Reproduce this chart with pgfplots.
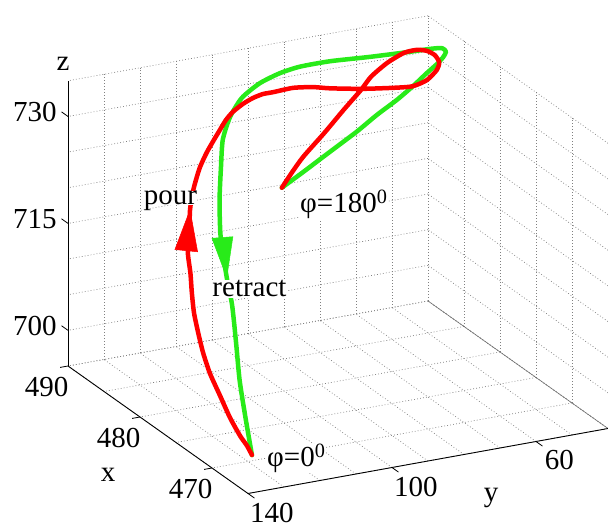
\documentclass[border=0pt]{standalone}
\usepackage{fontspec}
\setmainfont{Liberation Serif}
\usepackage{pgfplots}
\pgfplotsset{compat=1.18}

\definecolor{rcol}{RGB}{255,0,0}
\definecolor{gcol}{RGB}{40,235,25}
\newcommand{\lbl}{\fontsize{29}{32}\selectfont}

\begin{document}
\begin{tikzpicture}
\begin{axis}[
    x={(-7.2pt,5.1pt)}, y={(-3.6pt,-0.65pt)}, z={(0pt,7.13pt)},
    xmin=465, xmax=490, ymin=40, ymax=140, zmin=695, zmax=735,
    xtick={470,480,490}, ytick={60,100,140}, ztick={700,715,730},
    minor xtick={465,475,485},
    minor ytick={40,50,70,80,90,110,120,130},
    minor ztick={695,705,710,720,725,735},
    grid=both,
    major grid style={black!50, line width=0.7pt, dash pattern=on 0.8pt off 2.2pt},
    minor grid style={black!50, line width=0.7pt, dash pattern=on 0.8pt off 2.2pt},
    axis line style={draw=none},
    tick pos=left,
    tick align=outside,
    major tick length=8pt, minor tick length=0pt,
    tick style={draw=none},
    ticklabel style={font=\lbl},
    xticklabel style={xshift=3pt},
    yticklabel style={xshift=9pt, yshift=1.5pt},
    /pgf/number format/assume math mode=true,
    /pgf/number format/1000 sep={},
    clip=false,
]
  % axis lines in front (MATLAB style)
  \draw[black!55, line width=0.6pt] (axis cs:490,40,695) -- (axis cs:465,40,695);
  \draw[black, line width=0.9pt] (axis cs:490,140,695) -- (axis cs:465,140,695) -- (axis cs:465,40,695);
  \draw[black, line width=0.9pt] (axis cs:490,140,695) -- (axis cs:490,140,735);
  % outward tick marks
  \pgfplotsinvokeforeach{470,480,490}{\draw[black, line width=0.8pt] (axis cs:#1,140,695) -- (axis cs:#1,142.2,695);}
  \pgfplotsinvokeforeach{60,100,140}{\draw[black, line width=0.8pt] (axis cs:465,#1,695) -- (axis cs:464.1,#1,695);}
  \pgfplotsinvokeforeach{700,715,730}{\draw[black, line width=0.8pt] (axis cs:490,140,#1) -- (axis cs:490.9,140,#1);}
  \coordinate (cA) at (axis cs:490,140,695);

  % retract (green)
  \addplot3[gcol, line width=4.5pt, line join=round, line cap=round, smooth, tension=0.4] coordinates {
    (482.3,96.0,721.5) (483.2,88.1,722.4) (483.8,82.3,723.2) (484.5,76.3,723.9)
    (485.3,69.1,724.8) (486.2,61.8,725.8) (487,54.6,726.7) (487,50.2,728.2)
    (487,46.3,729.7) (487,43.5,730.7) (487,41.8,731.5) (487,41.0,732.2)
    (487,42.1,732.8) (487,45.4,733.0) (487,51.0,733.1) (487,62.1,733.4)
    (487,73.2,733.8) (487,81.6,733.8) (487,87.1,733.4) (487,92.7,732.5)
    (487,97.7,730.9) (486.1,102.8,729.3) (484.9,107.2,727.4) (483.4,110.7,725.0)
    (481.7,114.5,721.9) (479.7,118.2,718.5) (477.5,120.9,714.6) (476.0,122.4,711.9)
    (474.0,125.3,708.3) (472.0,128.3,704.7) (469.9,130.8,701.0) (468.0,132.9,697.6)
  };

  % pour (red)
  \addplot3[rcol, line width=4.5pt, line join=round, line cap=round, smooth, tension=0.4] coordinates {
    (468.0,132.9,697.6) (468.5,133.3,698.6) (469.0,134.2,699.7) (470.0,135.0,701.6)
    (471.2,135.4,703.9) (472.4,135.8,706.2) (473.5,135.5,708.3) (474.5,134.8,710.2)
    (475.6,133.8,712.2) (476.7,132.2,714.1) (477.7,130.6,716.0) (478.8,129.1,717.9)
    (480.0,126.3,720.0) (481.1,123.9,721.8) (481.9,121.7,723.1) (482.5,119.8,724.0)
    (483.4,116.6,725.4) (484.2,113.1,726.6) (484.8,110.1,727.5) (485.4,107.0,728.4)
    (485.9,104.3,729.2) (486.4,101.4,729.7) (486.8,97.8,730.2) (487,94.6,730.6)
    (487,91.8,730.9) (487,89.1,730.9) (487,83.5,731.0) (487,77.9,730.6)
    (487,73.2,730.0) (487,64.1,729.1) (487,54.6,728.4) (487,50.2,728.2)
    (487,46.3,728.7) (487,43.5,729.9) (487,42.9,730.9) (487,44.1,732.0)
    (487,46.3,732.8) (487,49.1,733.2) (487,52.7,733.1) (487,57.4,732.1)
    (487,61.8,730.6) (487,64.6,729.0) (486.5,70.4,727.1) (485.2,78.4,725.5)
    (484.0,86.6,723.8) (483.2,91.2,722.7) (482.3,96.0,721.5)
  };

  % direction arrowheads (filled triangles)
  \addplot3[draw=rcol, fill=rcol, line width=0.5pt, line join=miter] coordinates {
    (479.0,132.3,718.5) (481.1,123.9,721.8) (478.9,126.2,717.7)} -- cycle;
  \addplot3[draw=gcol, fill=gcol, line width=0.5pt, line join=miter] coordinates {
    (479.6,120.8,718.6) (477.5,120.9,714.6) (479.7,114.8,718.2)} -- cycle;
\end{axis}

% labels (white boxes hide the curve behind them, as in the original)
\node[font=\lbl, fill=white, inner sep=0pt, text depth=0pt, anchor=base] at ([shift={(102.5pt,161pt)}]cA) {pour};
\node[font=\lbl, fill=white, inner sep=1pt, anchor=base] at ([shift={(181.5pt,69pt)}]cA) {retract};
\node[font=\lbl, fill=white, inner sep=0pt, anchor=base west] at ([shift={(232pt,153pt)}]cA) {φ=180\textsuperscript{0}};
\node[font=\lbl, fill=white, inner sep=0pt, anchor=base west] at ([shift={(199pt,-101pt)}]cA) {φ=0\textsuperscript{0}};
\node[font=\lbl] at ([shift={(-5pt,302pt)}]cA) {z};
\node[font=\lbl] at ([shift={(40pt,-109pt)}]cA) {x};
\node[font=\lbl] at ([shift={(423pt,-132pt)}]cA) {y};

\pgfresetboundingbox
\path[use as bounding box] ([shift={(-68pt,-163pt)}]cA) rectangle ([shift={(540pt,366pt)}]cA);
\end{tikzpicture}
\end{document}
